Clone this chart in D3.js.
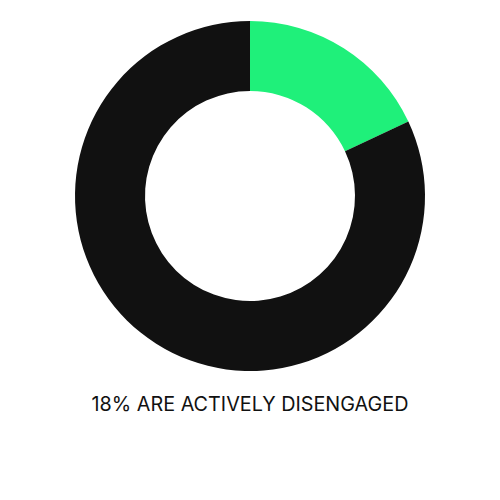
<!DOCTYPE html>
<html><head><meta charset="utf-8">
<script src="https://cdn.jsdelivr.net/npm/d3@7"></script>
<style>body{margin:0;background:#fff}svg{display:block}</style>
</head><body>
<svg id="c" width="500" height="500"></svg>
<script>
const categories = ["Actively disengaged", "Other"];
const values = [18, 82];
const colors = ["#1ff07a", "#111111"];
const caption = "18% ARE ACTIVELY DISENGAGED";

const svg = d3.select("#c");
const cx = 250, cy = 196, outerR = 175, innerR = 105;
const pie = d3.pie().sort(null).value(d => d)(values);
const arc = d3.arc().innerRadius(innerR).outerRadius(outerR);
const g = svg.append("g").attr("transform", `translate(${cx},${cy})`);
g.selectAll("path").data(pie).join("path")
  .attr("d", arc)
  .attr("fill", (d, i) => colors[i]);
svg.append("text")
  .attr("x", 250).attr("y", 410.5)
  .attr("text-anchor", "middle")
  .attr("font-family", "Inter, sans-serif")
  .attr("font-size", 19.8)
  .attr("fill", "#111")
  .text(caption);
</script>
</body></html>
